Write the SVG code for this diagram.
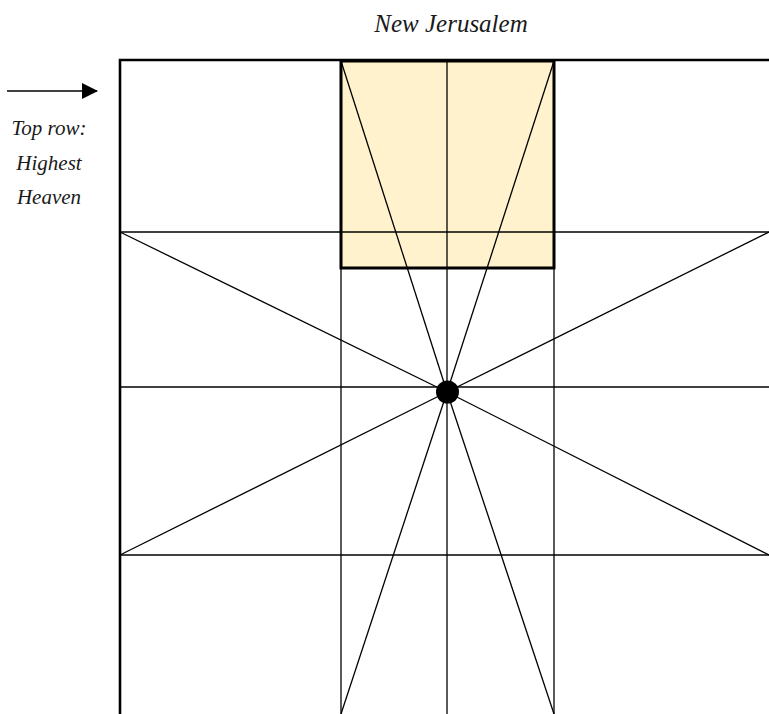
<svg xmlns="http://www.w3.org/2000/svg" width="769" height="714" viewBox="0 0 769 714">
<style>
.t{font-family:"Liberation Serif","Times New Roman",serif;font-style:italic;fill:#1a1a1a;text-anchor:middle}
.thin{stroke:#000;stroke-width:1.3;fill:none}
.thick{stroke:#000;stroke-width:2.6;fill:none}
</style>
<defs>
<marker id="ah" viewBox="0 0 16 16" refX="15" refY="8" markerWidth="16" markerHeight="16" markerUnits="userSpaceOnUse" orient="auto">
<path d="M0,0 L16,8 L0,16 Z" fill="#000"/>
</marker>
</defs>
<rect width="769" height="714" fill="#fff"/>
<g id="newjerusalem">
<rect x="341" y="61" width="213" height="207" fill="#fff2cc" stroke="#000" stroke-width="2.6"/>
</g>
<g id="connectors">
<line class="thin" x1="120" y1="232" x2="769" y2="232"/>
<line class="thin" x1="120" y1="387" x2="769" y2="387"/>
<line class="thin" x1="120" y1="555" x2="769" y2="555"/>
<line class="thin" x1="341" y1="61" x2="341" y2="714"/>
<line class="thin" x1="447" y1="61" x2="447" y2="714"/>
<line class="thin" x1="554" y1="61" x2="554" y2="714"/>
<line class="thin" x1="120" y1="232" x2="447" y2="392"/>
<line class="thin" x1="769" y1="232" x2="447" y2="392"/>
<line class="thin" x1="120" y1="555" x2="447" y2="392"/>
<line class="thin" x1="769" y1="555" x2="447" y2="392"/>
<line class="thin" x1="341" y1="61" x2="447" y2="392"/>
<line class="thin" x1="554" y1="61" x2="447" y2="392"/>
<line class="thin" x1="447" y1="392" x2="341" y2="714"/>
<line class="thin" x1="447" y1="392" x2="554" y2="714"/>
<line x1="7" y1="91" x2="97" y2="91" stroke="#000" stroke-width="1.5" marker-end="url(#ah)"/>
</g>
<g id="frame">
<rect x="341" y="61" width="213" height="207" fill="none" stroke="#000" stroke-width="2.6"/>
<path class="thick" d="M120,714 L120,60 L769,60"/>
</g>
<g id="center">
<circle cx="447.5" cy="392" r="11.5" fill="#000"/>
</g>
<g id="labels">
<text class="t" x="451" y="32" font-size="25">New Jerusalem</text>
<text class="t" x="49" y="135" font-size="21">Top row:</text>
<text class="t" x="49" y="170" font-size="21">Highest</text>
<text class="t" x="49" y="204" font-size="21">Heaven</text>
</g>
</svg>
